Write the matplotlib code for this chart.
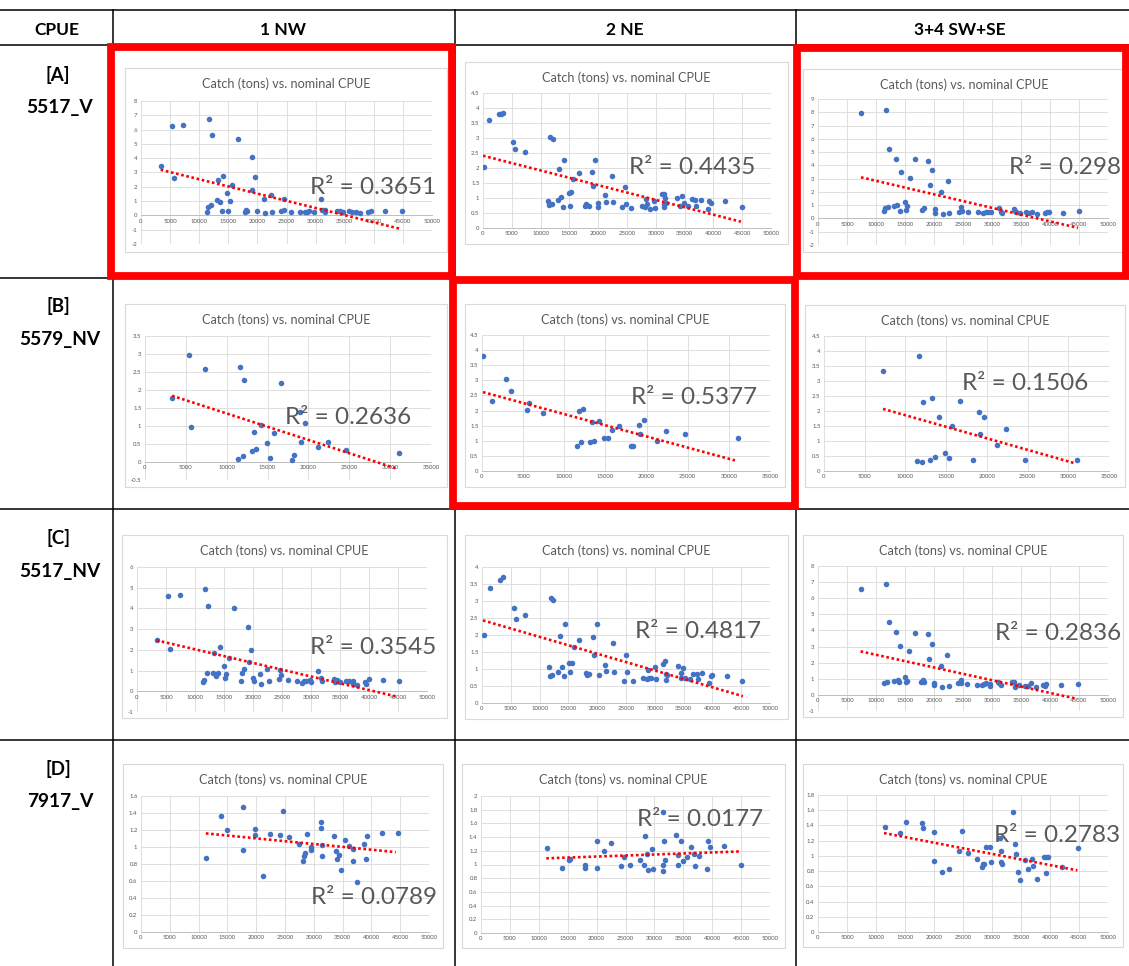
import numpy as np
import matplotlib
matplotlib.use("Agg")
import matplotlib.pyplot as plt
from matplotlib.patches import Rectangle

plt.rcParams['font.family'] = ['Lato', 'DejaVu Sans']
plt.rcParams['axes.unicode_minus'] = False

W, H = 1129, 966

## Table text
col_labels = ["1 NW", "2 NE", "3+4 SW+SE"]
row_tags = ["[A]", "[B]", "[C]", "[D]"]
row_names = ["5517_V", "5579_NV", "5517_NV", "7917_V"]
chart_title = "Catch (tons) vs. nominal CPUE"

## Points: (x, y)
a1_pts = [(3380, 3.47), (5380, 6.23), (5670, 2.65), (7270, 6.33), (11340, 0.21), (11450, 0.60),
          (11630, 6.74), (12080, 0.74), (12140, 5.63), (13000, 1.07), (13230, 2.49), (13570, 0.95),
          (13920, 0.33), (14090, 2.79), (14780, 1.58), (15000, 0.28), (15230, 1.00), (15690, 2.14),
          (16610, 5.35), (17870, 0.23), (18040, 0.37), (18210, 0.33), (19010, 4.05), (19130, 1.81),
          (19530, 2.72), (19930, 0.28), (21130, 1.16), (21250, 0.16), (22280, 1.44), (22510, 0.26),
          (24050, 0.28), (24510, 1.16), (24630, 0.35), (25770, 0.26), (27380, 0.26), (28240, 0.23),
          (28520, 0.23), (28920, 0.30), (29670, 0.23), (30930, 1.16), (31160, 0.35), (31560, 0.23),
          (31560, 0.40), (33680, 0.33), (34130, 0.28), (34710, 0.26), (35680, 0.28), (36250, 0.26),
          (36940, 0.26), (37570, 0.16), (39000, 0.23), (39580, 0.28), (41920, 0.28), (44850, 0.28)]
a2_pts = [(120, 2.03), (1100, 3.59), (2840, 3.80), (3190, 3.81), (3480, 3.82), (5270, 2.86),
          (5620, 2.63), (7240, 2.54), (11360, 0.90), (11470, 0.77), (11700, 3.05), (12050, 0.79),
          (12170, 2.98), (12980, 0.92), (13270, 1.97), (13560, 1.04), (13960, 0.70), (14140, 2.26),
          (14890, 1.16), (15060, 0.73), (15300, 1.19), (15700, 1.64), (16630, 1.84), (17790, 0.73),
          (17960, 0.79), (18370, 0.72), (18950, 1.88), (19180, 1.39), (19520, 2.27), (19930, 0.82),
          (19990, 0.71), (21200, 1.09), (21320, 0.88), (22310, 1.72), (22540, 0.88), (24160, 0.69),
          (24620, 1.37), (24740, 0.81), (25780, 0.67), (27520, 0.75), (28100, 0.70), (28330, 0.98),
          (28500, 0.80), (28960, 0.65), (29720, 0.89), (29780, 0.68), (31050, 1.14), (31400, 1.14),
          (31460, 0.69), (31460, 0.80), (31570, 0.99), (31690, 0.84), (33660, 1.00), (34120, 0.74),
          (34590, 1.06), (34820, 0.82), (35630, 0.74), (36270, 0.96), (36790, 0.92), (37020, 0.72),
          (37770, 0.94), (38990, 0.65), (39280, 0.91), (39510, 0.83), (42060, 0.89), (45020, 0.69)]
a3_pts = [(7410, 7.98), (11780, 8.19), (11380, 0.53), (11490, 0.81), (12070, 0.83), (12240, 5.26),
          (13100, 0.91), (13390, 4.48), (13680, 0.98), (14080, 0.58), (14250, 3.48), (14940, 1.21),
          (15110, 0.65), (15340, 0.93), (15800, 3.05), (16720, 4.48), (17870, 0.63), (18220, 0.81),
          (19020, 4.36), (19250, 2.52), (19660, 3.65), (20110, 0.68), (20170, 0.43), (21210, 1.99),
          (21490, 0.35), (22410, 2.82), (22640, 0.40), (24310, 0.48), (24710, 0.83), (24770, 0.58),
          (25860, 0.45), (27590, 0.45), (28450, 0.43), (28910, 0.48), (29310, 0.50), (29890, 0.45),
          (31150, 0.81), (31490, 0.50), (31780, 0.40), (33740, 0.68), (33970, 0.55), (34200, 0.50),
          (34830, 0.38), (35800, 0.45), (36440, 0.43), (36950, 0.50), (37820, 0.35), (39200, 0.43),
          (39540, 0.50), (39890, 0.48), (42180, 0.40), (45000, 0.53)]
b1_pts = [(3310, 1.78), (5360, 2.97), (5600, 0.97), (7320, 2.57), (11410, 0.09), (11650, 2.63),
          (12020, 0.17), (12140, 2.27), (13080, 0.30), (13330, 0.83), (13570, 0.35), (14150, 1.04),
          (14880, 0.53), (15290, 0.12), (15740, 0.80), (16640, 2.19), (17990, 0.05), (18280, 0.20),
          (19010, 1.40), (19130, 0.55), (19620, 1.09), (21180, 0.41), (22410, 0.55), (24650, 0.33),
          (31070, 0.24)]
b2_pts = [(120, 3.82), (1220, 2.32), (2920, 3.05), (3490, 2.64), (5430, 2.01), (5720, 2.26),
          (7380, 1.91), (11520, 0.84), (11760, 1.97), (12080, 0.95), (12250, 2.04), (13100, 0.95),
          (13420, 1.61), (13670, 1.00), (14190, 1.67), (14880, 1.09), (15330, 1.09), (15770, 1.35),
          (16670, 1.49), (18050, 0.84), (18370, 0.82), (19020, 1.51), (19180, 1.22), (19670, 1.70),
          (21210, 1.00), (22350, 1.33), (24660, 1.22), (31100, 1.08)]
b3_pts = [(7290, 3.32), (11630, 3.82), (11460, 0.32), (12080, 0.30), (12200, 2.31), (13060, 0.38),
          (13300, 2.43), (13630, 0.47), (14160, 1.79), (14860, 0.61), (15310, 0.43), (15720, 1.49),
          (16660, 2.35), (18300, 0.36), (18990, 1.97), (19160, 1.22), (19610, 1.79), (21200, 0.88),
          (22350, 1.41), (24680, 0.36), (31110, 0.38)]
c1_pts = [(3380, 2.46), (5330, 4.59), (5610, 2.06), (7330, 4.64), (11400, 0.45), (11510, 0.55),
          (11680, 4.93), (12140, 0.89), (12200, 4.14), (13120, 0.89), (13340, 1.85), (13690, 0.72),
          (13970, 0.87), (14260, 2.14), (15000, 1.21), (15120, 0.64), (15410, 0.85), (15870, 1.61),
          (16720, 4.03), (17980, 0.50), (18100, 0.89), (18440, 1.08), (19130, 3.12), (19300, 1.40),
          (19700, 1.98), (20050, 0.64), (20100, 0.52), (21250, 0.85), (21420, 0.35), (22450, 1.08),
          (22680, 0.52), (24400, 0.61), (24740, 1.05), (24860, 0.79), (25950, 0.55), (27660, 0.52),
          (28410, 0.42), (28810, 0.48), (29210, 0.52), (29900, 0.53), (29960, 0.47), (31210, 0.97),
          (31670, 0.64), (31840, 0.50), (33910, 0.61), (34190, 0.45), (34480, 0.53), (34940, 0.43),
          (35970, 0.50), (36480, 0.52), (37230, 0.50), (37290, 0.34), (37970, 0.29), (39230, 0.43),
          (39520, 0.37), (39920, 0.60), (42380, 0.56), (45100, 0.52)]
c2_pts = [(350, 2.01), (1390, 3.39), (3130, 3.62), (3650, 3.71), (5560, 2.79), (5850, 2.46),
          (7470, 2.58), (11590, 1.07), (11760, 0.78), (11940, 3.10), (12220, 0.81), (12400, 3.03),
          (13270, 0.92), (13560, 1.98), (13850, 1.07), (14250, 0.78), (14430, 2.32), (15120, 1.17),
          (15350, 0.90), (15640, 1.18), (16000, 1.66), (16860, 1.85), (18020, 0.87), (18250, 0.81),
          (18540, 0.84), (19240, 1.94), (19470, 1.42), (19930, 2.31), (20280, 0.83), (21440, 1.13),
          (21610, 0.93), (22710, 1.77), (22890, 0.90), (24570, 0.65), (24970, 1.40), (25090, 0.92),
          (26130, 0.65), (27870, 0.74), (28620, 0.70), (28790, 0.98), (28970, 0.73), (29320, 0.73),
          (30070, 1.05), (30130, 0.71), (31400, 1.15), (31810, 1.24), (31870, 0.68), (31920, 0.86),
          (32100, 0.81), (34010, 1.09), (34470, 0.87), (34530, 0.75), (34880, 1.04), (35230, 0.74),
          (36040, 0.71), (36620, 0.85), (37310, 0.85), (37430, 0.70), (38120, 0.89), (39400, 0.60),
          (39750, 0.78), (39980, 0.82), (42580, 0.80), (45200, 0.65)]
c3_pts = [(7450, 6.58), (11750, 6.87), (11410, 0.75), (11980, 0.81), (12270, 4.50), (13130, 0.87),
          (13420, 3.90), (13760, 0.91), (14050, 0.83), (14220, 3.03), (14970, 1.12), (15140, 0.81),
          (15310, 0.89), (15770, 2.70), (16690, 3.84), (17830, 0.77), (18120, 0.93), (18290, 0.81),
          (19040, 3.78), (19210, 2.20), (19610, 3.13), (20010, 0.75), (20010, 0.60), (21160, 1.80),
          (21330, 0.48), (22300, 2.45), (22530, 0.56), (24200, 0.71), (24600, 0.91), (24710, 0.75),
          (25750, 0.66), (27410, 0.64), (28210, 0.62), (28560, 0.68), (28960, 0.73), (29640, 0.68),
          (29700, 0.54), (30960, 0.83), (31250, 0.71), (31540, 0.62), (33490, 0.79), (33830, 0.81),
          (33940, 0.50), (34630, 0.60), (35670, 0.58), (36240, 0.58), (36810, 0.71), (37560, 0.52),
          (38820, 0.64), (39110, 0.56), (39390, 0.66), (41860, 0.64), (44780, 0.68)]
d1_pts = [(11320, 0.87), (13910, 1.36), (14950, 1.20), (17780, 1.47), (17730, 0.97), (19860, 1.21),
          (19860, 1.14), (21250, 0.66), (22400, 1.15), (24080, 1.14), (24600, 1.42), (25690, 1.12),
          (27370, 1.03), (28120, 0.84), (28290, 0.89), (28520, 0.93), (28810, 1.15), (29500, 1.00),
          (29560, 0.97), (31290, 1.29), (31290, 1.22), (31410, 1.02), (31470, 0.90), (33430, 1.13),
          (33890, 0.95), (33950, 0.86), (34410, 0.91), (34640, 0.73), (35450, 1.08), (36030, 1.01),
          (36720, 0.83), (36780, 0.98), (37470, 0.59), (38800, 1.03), (39030, 0.86), (39320, 1.13),
          (41860, 1.17), (44690, 1.16)]
d2_pts = [(11460, 1.24), (14000, 0.95), (15150, 1.06), (15320, 1.08), (17970, 0.95), (18030, 1.00),
          (20000, 1.35), (20050, 0.95), (21310, 1.20), (22520, 1.32), (24250, 0.98), (24770, 1.11),
          (25860, 0.99), (27480, 1.07), (28230, 1.00), (28460, 1.41), (28690, 1.15), (28920, 0.92),
          (29670, 1.22), (29840, 0.94), (31450, 1.76), (31510, 1.00), (31510, 0.90), (31680, 1.35),
          (31800, 1.07), (33700, 1.43), (34160, 1.00), (34160, 1.14), (34620, 1.34), (34910, 1.05),
          (35660, 1.11), (36290, 1.26), (36870, 1.16), (37040, 0.98), (37730, 1.13), (39060, 0.93),
          (39340, 1.34), (39690, 1.25), (42110, 1.27), (44990, 0.99)]
d3_pts = [(11490, 1.38), (14080, 1.30), (15170, 1.44), (17930, 1.43), (18160, 1.37), (20060, 1.32),
          (20060, 0.93), (21380, 0.79), (22530, 0.83), (24250, 1.06), (24770, 1.33), (25800, 1.04),
          (27470, 0.96), (28220, 0.86), (28450, 0.89), (28680, 0.90), (28910, 1.12), (29660, 1.12),
          (29770, 0.92), (31440, 1.24), (31490, 1.07), (31550, 0.92), (31780, 0.90), (33620, 1.58),
          (33970, 1.16), (34080, 1.03), (34540, 0.79), (34830, 0.68), (35690, 0.94), (36260, 0.83),
          (36900, 0.96), (37010, 0.87), (37760, 0.70), (38910, 0.99), (39310, 0.77), (39310, 0.99),
          (39660, 0.99), (42010, 0.85), (44890, 1.10)]

## Linear trendlines as shown (start and end point)
a1_trend = [(3380, 3.19), (44440, -0.93)]
a2_trend = [(0, 2.41), (44780, 0.21)]
a3_trend = [(7410, 3.10), (44830, -0.71)]
b1_trend = [(3310, 1.84), (30900, -0.19)]
b2_trend = [(120, 2.61), (30740, 0.35)]
b3_trend = [(7250, 2.07), (30780, 0.26)]
c1_trend = [(3380, 2.46), (45020, -0.27)]
c2_trend = [(170, 2.43), (45300, 0.20)]
c3_trend = [(7340, 2.70), (44720, -0.25)]
d1_trend = [(11260, 1.16), (44230, 0.94)]
d2_trend = [(11290, 1.09), (44640, 1.19)]
d3_trend = [(11380, 1.30), (44710, 0.81)]

r2_values = ["0.3651", "0.4435", "0.298",
             "0.2636", "0.5377", "0.1506",
             "0.3545", "0.4817", "0.2836",
             "0.0789", "0.0177", "0.2783"]

# y axis (min, max, step) and x max for each chart
y_axes = [(-2, 8, 1), (0, 4.5, 0.5), (-2, 9, 1),
          (-0.5, 3.5, 0.5), (0, 4.5, 0.5), (0, 4.5, 0.5),
          (-1, 6, 1), (0, 4, 0.5), (-1, 8, 1),
          (0, 1.6, 0.2), (0, 2, 0.2), (0, 1.8, 0.2)]
x_max = [50000, 50000, 50000,
         35000, 35000, 35000,
         50000, 50000, 50000,
         50000, 50000, 50000]

all_pts = [a1_pts, a2_pts, a3_pts, b1_pts, b2_pts, b3_pts,
           c1_pts, c2_pts, c3_pts, d1_pts, d2_pts, d3_pts]
all_trends = [a1_trend, a2_trend, a3_trend, b1_trend, b2_trend, b3_trend,
              c1_trend, c2_trend, c3_trend, d1_trend, d2_trend, d3_trend]

## Layout in pixels (x0, y0, x1, y1), y measured from the top
frames = [(125, 68, 447, 252), (465, 62, 788, 244), (803, 69, 1125, 252),
          (125, 304, 447, 487), (465, 304, 785, 487), (805, 305, 1125, 487),
          (122, 535, 447, 718), (465, 535, 788, 719), (803, 535, 1123, 717),
          (123, 764, 443, 948), (462, 764, 785, 948), (803, 764, 1123, 947)]
plot_areas = [(141, 101, 432, 244), (483, 93, 771, 228), (818, 99, 1108, 245),
              (145, 336, 431, 480), (482, 335, 770, 471), (824, 336, 1109, 471),
              (137, 567, 427, 712), (482, 567, 770, 703), (818, 566, 1108, 711),
              (141, 796, 429, 932), (481, 796, 770, 933), (818, 795, 1108, 932)]
r2_pos = [(373, 188), (692, 167), (1065, 168),
          (348, 418), (694, 398), (1025, 383),
          (373, 647), (698, 631), (1058, 634),
          (374, 897), (700, 820), (1057, 835)]
red_boxes = [(111, 47, 452, 276), (797, 48, 1126, 276), (453, 280, 795, 506)]

BLUE = '#4472C4'
GRID = '#D9D9D9'
TXT = '#595959'


def px_rect(r):
    x0, y0, x1, y1 = r
    return [x0 / W, 1 - y1 / H, (x1 - x0) / W, (y1 - y0) / H]


def draw_chart(fig, i):
    ax = fig.add_axes(px_rect(plot_areas[i]))
    pts = np.array(all_pts[i])
    ax.scatter(pts[:, 0], pts[:, 1], s=16, color=BLUE, linewidths=0, zorder=3)
    tr = np.array(all_trends[i])
    ax.plot(tr[:, 0], tr[:, 1], color='#FF0000', lw=1.9, ls=(0, (1, 1)),
            dash_capstyle='butt', zorder=4)

    ylo, yhi, ystep = y_axes[i]
    yt = np.round(np.arange(ylo, yhi + ystep / 2, ystep), 2)
    ax.set_ylim(ylo, yhi)
    ax.set_yticks(yt)
    ax.set_yticklabels([f"{v:g}" for v in yt])
    xt = np.arange(0, x_max[i] + 1, 5000)
    ax.set_xlim(0, x_max[i])
    ax.set_xticks(xt)
    ax.set_xticklabels([f"{v:d}" for v in xt])

    ax.grid(True, color=GRID, lw=0.6)
    ax.set_axisbelow(True)
    for s in ['top', 'right', 'left']:
        ax.spines[s].set_visible(False)
    ax.spines['bottom'].set_position(('data', 0))
    ax.spines['bottom'].set_color('#BFBFBF')
    ax.spines['bottom'].set_linewidth(0.7)
    ax.tick_params(length=0, labelsize=4.3, colors=TXT, pad=2.5)
    ax.patch.set_alpha(0)

    fx0, fy0, fx1, fy1 = frames[i]
    fig.text((fx0 + fx1) / 2 / W, 1 - (fy0 + 16) / H, chart_title,
             ha='center', va='center', fontsize=9.1, color=TXT)
    rx, ry = r2_pos[i]
    fig.text(rx / W, 1 - ry / H, "R² = " + r2_values[i], ha='center', va='center',
             fontsize=17.5, color=TXT)


fig = plt.figure(figsize=(W / 100, H / 100), dpi=100)

# background layer in pixel coordinates: table lines, red boxes, chart frames, labels
bg = fig.add_axes([0, 0, 1, 1], zorder=-1)
bg.set_xlim(0, W)
bg.set_ylim(H, 0)
bg.axis('off')

for y in [10, 45, 278, 509, 740]:
    bg.plot([0, W], [y, y], color='black', lw=1.1)
for x in [113, 455, 796]:
    bg.plot([x, x], [10, H], color='black', lw=1.1)

for r in frames:
    bg.add_patch(Rectangle((r[0], r[1]), r[2] - r[0], r[3] - r[1],
                           facecolor='white', edgecolor=GRID, lw=0.8))

for r in red_boxes:
    bg.add_patch(Rectangle((r[0], r[1]), r[2] - r[0], r[3] - r[1],
                           facecolor='none', edgecolor='#FF0000', lw=5.6,
                           joinstyle='miter', zorder=5))

bg.text(57, 30, "CPUE", ha='center', va='center', fontsize=12.5, fontweight='bold')
for x, lab in zip([283, 625, 960], col_labels):
    bg.text(x, 30, lab, ha='center', va='center', fontsize=12.5, fontweight='bold')
for y, tag, name in zip([75, 306, 538, 769], row_tags, row_names):
    bg.text(58, y, tag, ha='center', va='center', fontsize=13.5, fontweight='bold')
    bg.text(60, y + 33, name, ha='center', va='center', fontsize=13.8, fontweight='bold')

for i in range(12):
    draw_chart(fig, i)

fig.savefig("out.png", dpi=100)
